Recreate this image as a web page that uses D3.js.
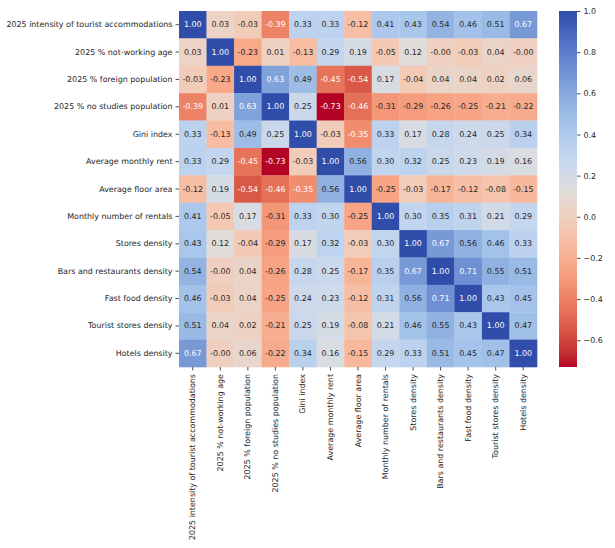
<!DOCTYPE html>
<html><head><meta charset="utf-8">
<script src="https://cdn.jsdelivr.net/npm/d3@7"></script>
<style>
html,body{margin:0;padding:0;background:#fff;}
svg{display:block;}
text{font-family:"DejaVu Sans",sans-serif;}
</style></head>
<body>
<svg id="chart" width="615" height="548"></svg>
<script>
const variables = [
  "2025 intensity of tourist accommodations",
  "2025 % not-working age",
  "2025 % foreign population",
  "2025 % no studies population",
  "Gini index",
  "Average monthly rent",
  "Average floor area",
  "Monthly number of rentals",
  "Stores density",
  "Bars and restaurants density",
  "Fast food density",
  "Tourist stores density",
  "Hotels density"
];
const row0  = [1.00, 0.03, -0.03, -0.39, 0.33, 0.33, -0.12, 0.41, 0.43, 0.54, 0.46, 0.51, 0.67];
const row1  = [0.03, 1.00, -0.23, 0.01, -0.13, 0.29, 0.19, -0.05, 0.12, -0.001, -0.03, 0.04, -0.001];
const row2  = [-0.03, -0.23, 1.00, 0.63, 0.49, -0.45, -0.54, 0.17, -0.04, 0.04, 0.04, 0.02, 0.06];
const row3  = [-0.39, 0.01, 0.63, 1.00, 0.25, -0.73, -0.46, -0.31, -0.29, -0.26, -0.25, -0.21, -0.22];
const row4  = [0.33, -0.13, 0.49, 0.25, 1.00, -0.03, -0.35, 0.33, 0.17, 0.28, 0.24, 0.25, 0.34];
const row5  = [0.33, 0.29, -0.45, -0.73, -0.03, 1.00, 0.56, 0.30, 0.32, 0.25, 0.23, 0.19, 0.16];
const row6  = [-0.12, 0.19, -0.54, -0.46, -0.35, 0.56, 1.00, -0.25, -0.03, -0.17, -0.12, -0.08, -0.15];
const row7  = [0.41, -0.05, 0.17, -0.31, 0.33, 0.30, -0.25, 1.00, 0.30, 0.35, 0.31, 0.21, 0.29];
const row8  = [0.43, 0.12, -0.04, -0.29, 0.17, 0.32, -0.03, 0.30, 1.00, 0.67, 0.56, 0.46, 0.33];
const row9  = [0.54, -0.001, 0.04, -0.26, 0.28, 0.25, -0.17, 0.35, 0.67, 1.00, 0.71, 0.55, 0.51];
const row10 = [0.46, -0.03, 0.04, -0.25, 0.24, 0.23, -0.12, 0.31, 0.56, 0.71, 1.00, 0.43, 0.45];
const row11 = [0.51, 0.04, 0.02, -0.21, 0.25, 0.19, -0.08, 0.21, 0.46, 0.55, 0.43, 1.00, 0.47];
const row12 = [0.67, -0.001, 0.06, -0.22, 0.34, 0.16, -0.15, 0.29, 0.33, 0.51, 0.45, 0.47, 1.00];
const matrix = [row0,row1,row2,row3,row4,row5,row6,row7,row8,row9,row10,row11,row12];
const colorbarTicks = [-0.6, -0.4, -0.2, 0.0, 0.2, 0.4, 0.6, 0.8, 1.0];

// coolwarm-like colormap stops (blue side toned to match the reference rendering)
const coolwarmStops = [
[48,77,170],[60,90,180],[72,103,190],[84,116,198],[96,129,205],[107,141,210],[118,153,214],[130,164,219],
[141,175,224],[152,185,228],[163,194,233],[174,201,236],[184,208,238],[194,213,238],[204,217,235],[213,219,229],
[221,221,221],[229,216,209],[236,211,197],[241,204,185],[245,196,173],[247,187,160],[247,177,148],[247,166,135],
[244,154,123],[241,141,111],[236,127,99],[229,112,88],[222,96,77],[213,80,66],[203,62,56],[192,40,47],[180,4,38]];
const coolwarm = d3.piecewise(d3.interpolateRgb, coolwarmStops.map(c=>`rgb(${c[0]},${c[1]},${c[2]})`));

const vmin = d3.min(matrix.flat()), vmax = 1.0;
const norm = d3.scaleLinear().domain([vmin, vmax]).range([0,1]).clamp(true);
const color = v => coolwarm(1 - norm(v)); // reversed: blue = positive

function lum(c){
  const rgb = d3.rgb(c);
  const f = x => { x/=255; return x <= 0.03928 ? x/12.92 : Math.pow((x+0.055)/1.055, 2.4); };
  return 0.2126*f(rgb.r) + 0.7152*f(rgb.g) + 0.0722*f(rgb.b);
}

const svg = d3.select("#chart");
const mLeft = 179, mTop = 11, W = 358, H = 356;
const x = d3.scaleBand().domain(variables).range([mLeft, mLeft+W]);
const y = d3.scaleBand().domain(variables).range([mTop, mTop+H]);
const fs = 7.95;

const cells = [];
matrix.forEach((r,i)=>r.forEach((v,j)=>cells.push({i,j,v})));

const g = svg.append("g");
g.selectAll("rect").data(cells).enter().append("rect")
  .attr("x", d=>x(variables[d.j]))
  .attr("y", d=>y(variables[d.i]))
  .attr("width", x.bandwidth()+0.3)
  .attr("height", y.bandwidth()+0.3)
  .attr("fill", d=>color(d.v));

g.selectAll("text.ann").data(cells).enter().append("text")
  .attr("class","ann")
  .attr("x", d=>x(variables[d.j]) + x.bandwidth()/2)
  .attr("y", d=>y(variables[d.i]) + y.bandwidth()/2)
  .attr("text-anchor","middle")
  .attr("dominant-baseline","central")
  .attr("font-size", fs)
  .attr("fill", d=> lum(color(d.v)) > 0.408 ? "#262626" : "#ffffff")
  .text(d=>d.v.toFixed(2));

// axes
const yAxis = svg.append("g").attr("transform",`translate(${mLeft},0)`)
  .call(d3.axisLeft(y).tickSize(3.5).tickPadding(3));
const xAxis = svg.append("g").attr("transform",`translate(0,${mTop+H})`)
  .call(d3.axisBottom(x).tickSize(3.5).tickPadding(3));
[yAxis,xAxis].forEach(a=>{
  a.select(".domain").remove();
  a.selectAll(".tick line").attr("stroke","#262626").attr("stroke-width",0.8);
  a.selectAll(".tick text").attr("font-size",fs).attr("fill","#262626").attr("font-family","DejaVu Sans, sans-serif");
});
xAxis.selectAll(".tick text")
  .attr("transform","rotate(-90)")
  .attr("text-anchor","end")
  .attr("dy","0.32em")
  .attr("y",0)
  .attr("x",-(3.5+3.5));

// colorbar
const cbX = 559, cbW = 18;
const cy = d3.scaleLinear().domain([vmin, vmax]).range([mTop+H, mTop]);
const defs = svg.append("defs");
const grad = defs.append("linearGradient").attr("id","cbgrad")
  .attr("x1",0).attr("y1",1).attr("x2",0).attr("y2",0);
d3.range(0,1.0001,1/64).forEach(t=>{
  grad.append("stop").attr("offset",t).attr("stop-color",coolwarm(1-t));
});
svg.append("rect").attr("x",cbX).attr("y",mTop).attr("width",cbW).attr("height",H)
  .attr("fill","url(#cbgrad)");
const cbAxis = svg.append("g").attr("transform",`translate(${cbX+cbW},0)`)
  .call(d3.axisRight(cy).tickValues(colorbarTicks).tickFormat(d3.format(".1f")).tickSize(3.5).tickPadding(3));
cbAxis.select(".domain").remove();
cbAxis.selectAll(".tick line").attr("stroke","#262626").attr("stroke-width",0.8);
cbAxis.selectAll(".tick text").attr("font-size",fs).attr("fill","#262626").attr("font-family","DejaVu Sans, sans-serif");
</script>
</body></html>
